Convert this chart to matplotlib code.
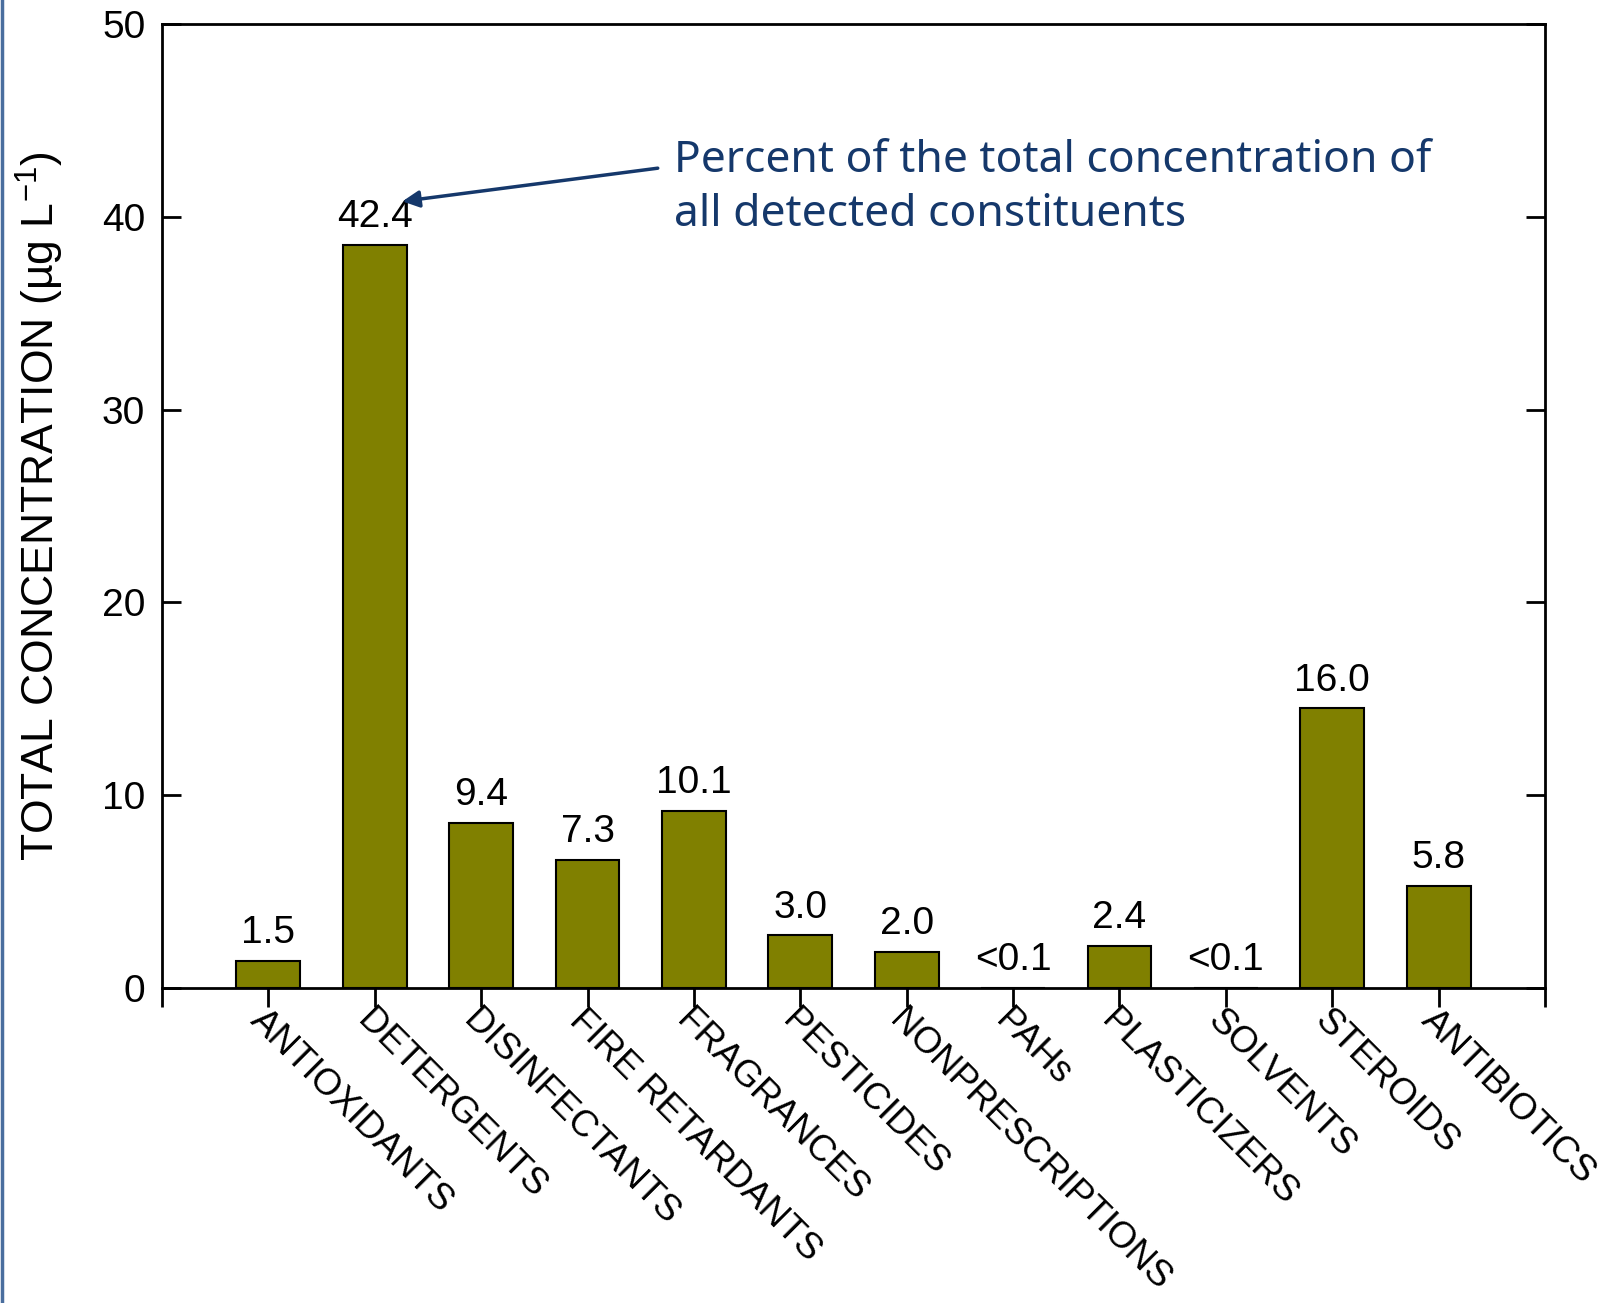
import matplotlib
matplotlib.use("Agg")
import matplotlib.pyplot as plt
from matplotlib.lines import Line2D

plt.rcParams['font.family'] = ['Liberation Sans', 'DejaVu Sans']
plt.rcParams['mathtext.fontset'] = 'custom'
plt.rcParams['mathtext.rm'] = 'Liberation Sans'
plt.rcParams['mathtext.it'] = 'Liberation Sans'

# data
categories = ["ANTIOXIDANTS", "DETERGENTS", "DISINFECTANTS", "FIRE RETARDANTS",
              "FRAGRANCES", "PESTICIDES", "NONPRESCRIPTIONS", "PAHs",
              "PLASTICIZERS", "SOLVENTS", "STEROIDS", "ANTIBIOTICS"]
concentration = [1.4, 38.55, 8.57, 6.64, 9.2, 2.73, 1.87, 0.0, 2.2, 0.0, 14.5, 5.3]
percent_labels = ["1.5", "42.4", "9.4", "7.3", "10.1", "3.0", "2.0", "<0.1",
                  "2.4", "<0.1", "16.0", "5.8"]

fig = plt.figure(figsize=(16.18, 13.03), dpi=100)
ax = fig.add_axes([0.1001, 0.2418, 0.8548, 0.7398])

x = list(range(1, len(categories) + 1))
ax.bar(x, concentration, width=0.6, color='#808000', edgecolor='black', linewidth=1.5, zorder=2)

# percent labels above bars
for xi, h, lab in zip(x, concentration, percent_labels):
    ax.annotate(lab, (xi, h), xytext=(0, 7), textcoords='offset points',
                ha='center', va='bottom', fontsize=28)

ax.set_xlim(0, 13)
ax.set_ylim(0, 50)
ax.set_yticks([0, 10, 20, 30, 40, 50])
ax.set_xticks(list(range(0, 14)))
ax.set_xticklabels([""] + categories + [""], rotation=-45, ha='left', va='top',
                   rotation_mode='anchor', fontsize=26.5)
ax.tick_params(axis='x', direction='out', length=14, width=2, pad=-3)
ax.tick_params(axis='y', direction='in', length=14, width=2, labelsize=28, pad=12,
               right=True)
for s in ax.spines.values():
    s.set_linewidth(2)

ax.set_ylabel("TOTAL CONCENTRATION (µg L$^{-1}$)", fontsize=32, labelpad=26)

# annotation for the percent labels
ax.annotate("", xy=(2.26, 40.8), xytext=(4.66, 42.52),
            arrowprops=dict(arrowstyle='-|>', color='#15386b', lw=2.5,
                            mutation_scale=25, shrinkA=0, shrinkB=0))
ax.text(4.81, 41.5, "Percent of the total concentration of\nall detected constituents",
        ha='left', va='center', fontsize=32, color='#15386b',
        family=['Noto Sans', 'DejaVu Sans'], linespacing=1.3)

# thin blue frame line at the left edge
fig.add_artist(Line2D([0.001, 0.001], [0, 1], color='#4a6e9e', lw=2.5,
                      transform=fig.transFigure))

fig.savefig("out.png", dpi=100, facecolor='white')
